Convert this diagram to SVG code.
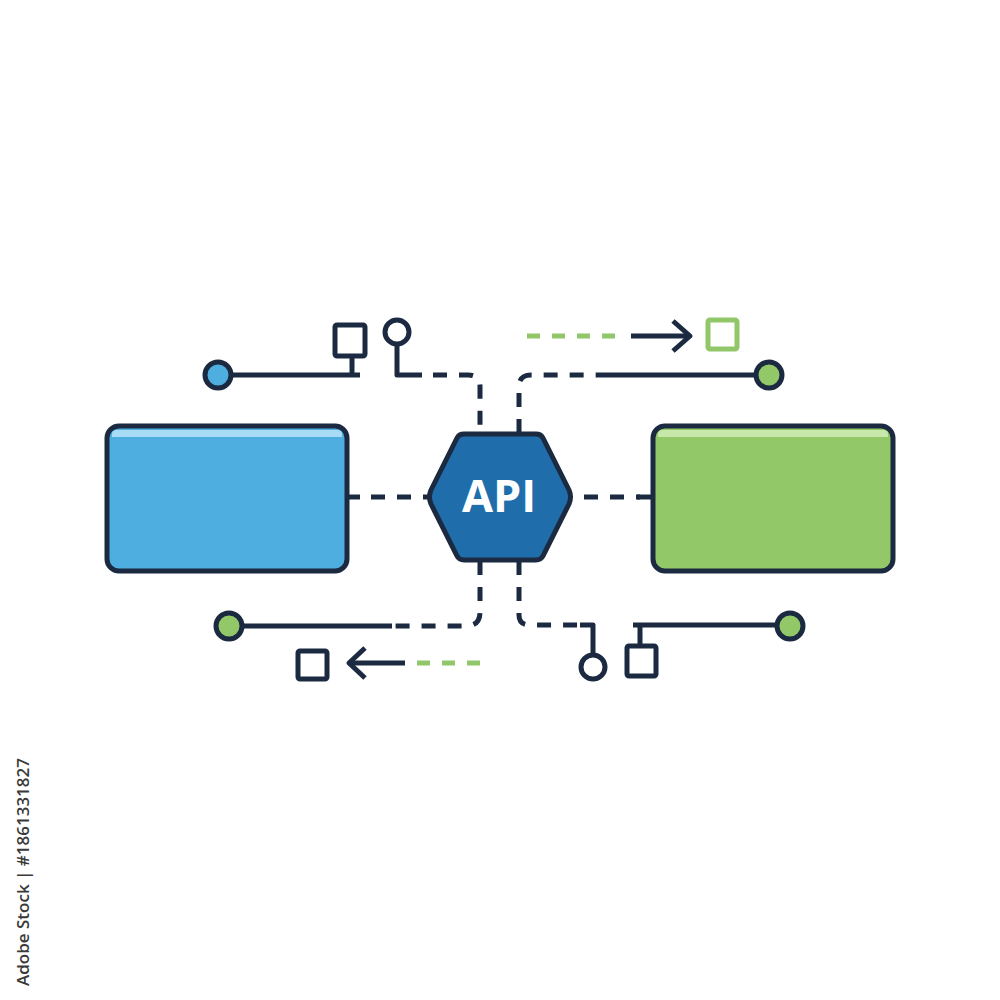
<svg xmlns="http://www.w3.org/2000/svg" width="1000" height="1000" viewBox="0 0 1000 1000">
<defs>
<style>
.ln{fill:none;stroke:#1b2a41;stroke-width:5;stroke-linecap:butt;stroke-linejoin:round}
.dash{fill:none;stroke:#1b2a41;stroke-width:5;stroke-dasharray:14 12}
.gdash{fill:none;stroke:#92c769;stroke-width:5;stroke-dasharray:13 12}
.node{stroke:#1b2a41;stroke-width:5}
.hollow{fill:#ffffff;stroke:#1b2a41;stroke-width:5}
.api{font-family:"Open Sans","Liberation Sans",sans-serif;font-weight:700;font-size:45px;fill:#ffffff}
.id{font-family:"Open Sans","Liberation Sans",sans-serif;font-size:17px;font-weight:600;fill:#3a3a3a}
</style>
</defs>
<rect width="1000" height="1000" fill="#ffffff"/>
<g id="connectors">
<path class="ln" d="M348,497 H360"/>
<path class="dash" d="M371,497 H428" stroke-dasharray="14 13"/>
<path class="dash" d="M584,497 H640" stroke-dasharray="13 13"/>
<path class="ln" d="M637,497 H652"/>
<path class="ln" d="M231,375 H360"/>
<path class="ln" d="M352,356 V375"/>
<path class="ln" d="M397,344 V375 H422"/>
<path class="dash" d="M433,375 H468 Q480,375 480,387 V433" stroke-dasharray="16 11"/>
<path class="dash" d="M519,433 V387 Q519,375 531,375 H606" stroke-dasharray="14 12"/>
<path class="ln" d="M606,375 H756"/>
<path class="gdash" d="M527,336 H620"/>
<path class="ln" d="M631,336 H690"/>
<path class="ln" d="M673,321 L690,336 L673,351" stroke-linecap="round"/>
<path class="dash" d="M480,561 V612 Q480,626 466,626 H395" stroke-dasharray="14 11"/>
<path class="ln" d="M242,626 H392"/>
<path class="ln" d="M405,663 H350"/>
<path class="ln" d="M365,648 L349,663 L365,678" stroke-linecap="round"/>
<path class="gdash" d="M417,663 H483"/>
<path class="dash" d="M519,561 V615 Q519,625 530,625 H584" stroke-dasharray="14 12"/>
<path class="ln" d="M580,625 H593 V655"/>
<path class="ln" d="M633,625 H777"/>
<path class="ln" d="M640,625 V645"/>
</g>
<g id="box-left">
<rect class="node" x="107" y="426" width="240" height="145" rx="12" fill="#4faee0"/>
<path d="M112,437 V434 Q112,430 117,430 H337 Q342,430 342,434 V437 Z" fill="#a8dcf5"/>
</g>
<g id="box-right">
<rect class="node" x="653" y="426" width="240" height="145" rx="12" fill="#93c868"/>
<path d="M658,437 V434 Q658,430 663,430 H883 Q888,430 888,434 V437 Z" fill="#c8e7ab"/>
</g>
<g id="api">
<path d="M464,434 H536 Q541,434 543,438 L569,490 Q572,497 569,504 L543,556 Q541,560 536,560 H464 Q459,560 457,556 L431,504 Q428,497 431,490 L457,438 Q459,434 464,434 Z" fill="#1f6eab" stroke="#1b2a41" stroke-width="5" stroke-linejoin="round"/>
<text class="api" x="499" y="512" text-anchor="middle">API</text>
</g>
<g id="tl-circle"><circle class="node" cx="218" cy="375" r="13" fill="#4faee0"/></g>
<g id="tl-square"><rect class="hollow" x="335" y="325" width="30" height="31" rx="2"/></g>
<g id="tl-lollipop"><circle class="hollow" cx="397" cy="332" r="12"/></g>
<g id="tr-square"><rect x="708" y="320" width="29" height="29" rx="2" fill="#ffffff" stroke="#92c769" stroke-width="5"/></g>
<g id="tr-circle"><circle class="node" cx="769" cy="375" r="13" fill="#93c868"/></g>
<g id="bl-circle"><circle class="node" cx="229" cy="626" r="13" fill="#93c868"/></g>
<g id="bl-square"><rect class="hollow" x="298" y="651" width="29" height="28" rx="2"/></g>
<g id="br-lollipop"><circle class="hollow" cx="593" cy="667" r="12"/></g>
<g id="br-square"><rect class="hollow" x="627" y="646" width="29" height="30" rx="2"/></g>
<g id="br-circle"><circle class="node" cx="790" cy="626" r="13" fill="#93c868"/></g>
<text class="id" transform="translate(29,986) rotate(-90)">Adobe Stock | #1861331827</text>
</svg>
